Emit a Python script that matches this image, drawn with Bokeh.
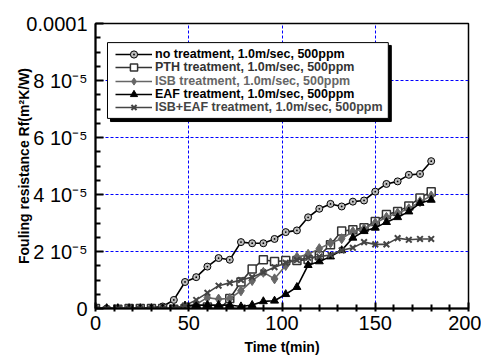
import math
from bokeh.plotting import figure
from bokeh.models import FixedTicker, Legend, LegendItem, BoxAnnotation
from bokeh.embed import file_html
from bokeh.resources import INLINE

# ---------------- data (fouling resistance in units of 1e-5 m2K/W) ----------------
time_min = [0, 6, 12, 18, 24, 30, 36, 42, 48, 54, 60, 66, 72, 78, 84, 90,
            96, 102, 108, 114, 120, 126, 132, 138, 144, 150, 156, 162, 168, 174, 180]

no_treatment = [0, 0, 0, 0, 0, 0.03, 0.07, 0.3, 0.93, 1.1, 1.47, 1.77, 1.71, 2.33, 2.29, 2.29,
                2.44, 2.68, 2.74, 3.2, 3.5, 3.67, 3.58, 3.75, 3.79, 4.1, 4.37, 4.46, 4.69, 4.72, 5.17]
pth = [0, -0.1, -0.03, 0, 0, 0, 0, -0.03, 0, -0.08, 0.05, -0.06, 0.35, 0.93, 1.39, 1.71,
       1.65, 1.68, 1.68, 1.72, 1.85, 2.24, 2.72, 2.76, 2.83, 3.05, 3.3, 3.4, 3.6, 3.88, 4.1]
isb = [0, 0, 0, 0, 0, 0, 0, 0, 0, 0.15, 0.38, 0.33, 0.35, 0.62, 0.98, 1.27,
       1.04, 1.51, 1.8, 1.9, 2.1, 2.3, 2.45, 2.7, 2.8, 3.0, 3.2, 3.35, 3.5, 3.75, 3.95]
eaf = [0, 0, 0, 0, 0, 0, 0, 0, 0.1, 0.12, 0.12, 0.12, 0.12, 0.07, 0.12, 0.25,
       0.27, 0.5, 0.75, 1.52, 1.65, 1.82, 2.04, 2.48, 2.71, 2.83, 3.03, 3.2, 3.4, 3.7, 3.81]
isb_eaf = [0, 0, 0, 0, 0, 0, 0, 0, 0.1, 0.3, 0.55, 0.8, 0.9, 1.0, 1.1, 1.27,
           1.45, 1.6, 1.7, 1.78, 1.82, 1.88, 2.04, 2.13, 2.33, 2.25, 2.25, 2.47, 2.41, 2.44, 2.44]

series_names = ["no treatment, 1.0m/sec, 500ppm",
                "PTH treatment, 1.0m/sec, 500ppm",
                "ISB treatment, 1.0m/sec, 500ppm",
                "EAF treatment, 1.0m/sec, 500ppm",
                "ISB+EAF treatment, 1.0m/sec, 500ppm"]

x_ticks = [0, 50, 100, 150, 200]
x_minor = [10, 20, 30, 40, 60, 70, 80, 90, 110, 120, 130, 140, 160, 170, 180, 190]
y_ticks = [0, 2, 4, 6, 8, 10]
y_tick_labels = ["0", "2 10\u207b\u2075", "4 10\u207b\u2075", "6 10\u207b\u2075", "8 10\u207b\u2075", "0.0001"]
y_minor = [0.5, 1, 1.5, 2.5, 3, 3.5, 4.5, 5, 5.5, 6.5, 7, 7.5, 8.5, 9, 9.5]

FONT = "Liberation Sans"

p = figure(frame_width=373, frame_height=285, x_range=(0, 200), y_range=(0, 10),
           output_backend="svg", toolbar_location=None,
           min_border_left=95, min_border_right=13, min_border_top=23, min_border_bottom=52)
p.background_fill_color = "white"
p.border_fill_color = "white"
p.outline_line_color = "black"
p.outline_line_width = 1.5

for ax in (p.xaxis[0], p.yaxis[0]):
    ax.axis_line_width = 2
    ax.axis_line_color = "black"
    ax.major_tick_line_width = 2
    ax.minor_tick_line_width = 2
    ax.major_label_text_font = FONT
    ax.major_label_text_font_size = "20px"
    ax.major_label_text_color = "black"
    ax.axis_label_text_font = FONT
    ax.axis_label_text_font_style = "bold"
    ax.axis_label_text_font_size = "14px"
    ax.axis_label_text_color = "black"

p.xaxis.ticker = FixedTicker(ticks=x_ticks, minor_ticks=x_minor)
p.xaxis.major_tick_in = 6
p.xaxis.major_tick_out = 3
p.xaxis.minor_tick_in = 4
p.xaxis.minor_tick_out = 3
p.xaxis.major_label_standoff = 4
p.xaxis.axis_label = "Time t(min)"
p.xaxis.axis_label_standoff = 6

p.yaxis.ticker = FixedTicker(ticks=y_ticks, minor_ticks=y_minor)
p.yaxis.major_label_overrides = {t: l for t, l in zip(y_ticks, y_tick_labels)}
p.yaxis.major_tick_in = 8
p.yaxis.major_tick_out = 0
p.yaxis.minor_tick_in = 5
p.yaxis.minor_tick_out = 0
p.yaxis.major_label_standoff = 8
p.yaxis.axis_label = "Fouling resistance Rf(m\u00b2K/W)"
p.yaxis.axis_label_standoff = -9

for g in (p.xgrid[0], p.ygrid[0]):
    g.grid_line_color = "#0000ff"
    g.grid_line_dash = "3 2"
    g.grid_line_width = 1

# ---------------- series ----------------
renderers = []
styles = [
    dict(data=no_treatment, color="black", marker="circle_dot", fill="#bdbdbd", size=7, lw=1),
    dict(data=pth, color="#333333", marker="square", fill="white", size=8, lw=1.5),
    dict(data=isb, color="#666666", marker="diamond", fill="#666666", size=10, lw=1),
    dict(data=eaf, color="black", marker="triangle", fill="black", size=8, lw=1),
    dict(data=isb_eaf, color="#444444", marker="x", fill="#444444", size=8, lw=2),
]
for st in styles:
    rl = p.line(time_min, st["data"], line_color=st["color"], line_width=1.6)
    rs = p.scatter(time_min, st["data"], marker=st["marker"], size=st["size"],
                   line_color=st["color"], fill_color=st["fill"], line_width=st["lw"])
    renderers.append((rl, rs, st["color"]))

# ---------------- legend box with drop shadow ----------------
p.add_layout(BoxAnnotation(left=8.04, right=158.6, bottom=6.56, top=9.23,
                           fill_color="black", fill_alpha=1, line_color="black",
                           line_alpha=1, level="annotation"))
p.add_layout(BoxAnnotation(left=6.43, right=157.0, bottom=6.67, top=9.33,
                           fill_color="white", fill_alpha=1, line_color="black",
                           line_width=1, line_alpha=1, level="annotation"))

legend_bottoms = [245, 231.7, 218.4, 205.1, 191.8]
for (rl, rs, col), name, yb in zip(renderers, series_names, legend_bottoms):
    lg = Legend(items=[LegendItem(label=name, renderers=[rl, rs])],
                location=(20, yb), padding=0, spacing=0, margin=0,
                glyph_width=37, glyph_height=18, label_height=18, label_standoff=3,
                label_text_font=FONT, label_text_font_style="bold",
                label_text_font_size="12.5px", label_text_color=col,
                border_line_color=None, background_fill_alpha=0)
    p.add_layout(lg, "center")

open("out.html", "w").write(file_html(p, INLINE))
